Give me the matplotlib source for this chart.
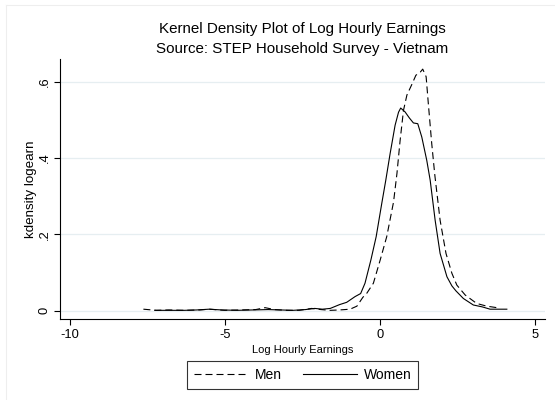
import matplotlib
matplotlib.use("Agg")
import matplotlib.pyplot as plt
from matplotlib.lines import Line2D

plt.rcParams['font.family'] = ['Liberation Sans', 'DejaVu Sans']
plt.rcParams['axes.unicode_minus'] = False

# kernel density of log hourly earnings
men_x = [-7.62, -7.2, -6.8, -6.3, -5.8, -5.5, -5.0, -4.5, -4.0, -3.7, -3.4, -3.0,
         -2.6, -2.2, -1.9, -1.6, -1.3, -0.96, -0.74, -0.55, -0.42, -0.21, 0.01,
         0.22, 0.44, 0.55, 0.65, 0.76, 0.87, 1.03, 1.16, 1.30, 1.38, 1.49, 1.56,
         1.67, 1.77, 1.94, 2.13, 2.32, 2.48, 2.75, 3.12, 3.44, 3.77, 3.85]
men_y = [0.004, 0.001, 0.002, 0.001, 0.002, 0.004, 0.001, 0.002, 0.003, 0.008,
         0.003, 0.001, 0.001, 0.006, 0.003, 0.001, 0.002, 0.004, 0.012, 0.035,
         0.046, 0.072, 0.133, 0.194, 0.285, 0.36, 0.445, 0.525, 0.565, 0.593,
         0.617, 0.625, 0.633, 0.613, 0.543, 0.438, 0.355, 0.237, 0.150, 0.098,
         0.067, 0.041, 0.019, 0.012, 0.008, 0.006]

women_x = [-7.25, -6.8, -6.3, -5.9, -5.5, -5.1, -4.6, -4.1, -3.6, -3.2, -2.8,
           -2.4, -2.1, -1.85, -1.6, -1.3, -1.07, -0.80, -0.62, -0.48, -0.29,
           -0.12, 0.06, 0.19, 0.33, 0.49, 0.60, 0.67, 0.81, 0.95, 1.08, 1.22,
           1.35, 1.51, 1.62, 1.78, 1.94, 2.16, 2.32, 2.45, 2.69, 3.01, 3.3,
           3.55, 3.8, 4.09]
women_y = [0.001, 0.001, 0.001, 0.002, 0.004, 0.002, 0.001, 0.002, 0.003,
           0.002, 0.001, 0.003, 0.006, 0.004, 0.006, 0.016, 0.022, 0.037,
           0.045, 0.072, 0.133, 0.194, 0.281, 0.342, 0.412, 0.486, 0.52,
           0.531, 0.521, 0.505, 0.492, 0.490, 0.455, 0.394, 0.342, 0.237,
           0.150, 0.089, 0.065, 0.052, 0.032, 0.015, 0.010, 0.004, 0.004, 0.004]

xticks = [-10, -5, 0, 5]
yticks = [0, 0.2, 0.4, 0.6]
ytick_labels = ['0', '.2', '.4', '.6']

fig = plt.figure(figsize=(5.55, 4.0), dpi=100, facecolor='white')
ax = fig.add_axes([0.1085, 0.2025, 0.8735, 0.6495])

# faint outer frame
fig.add_artist(Line2D([6/555, 1.0], [1-5/400, 1-5/400], color='#eeeeee', lw=0.8))
fig.add_artist(Line2D([6/555, 6/555], [0.0, 1-5/400], color='#eeeeee', lw=0.8))

men_line, = ax.plot(men_x, men_y, color='black', lw=0.8, linestyle=(0, (6.3, 3.6)))
women_line, = ax.plot(women_x, women_y, color='black', lw=0.8)

ax.set_xlim(-10.3, 5.32)
ax.set_ylim(-0.0217, 0.659)
ax.set_xticks(xticks)
ax.set_yticks(yticks)
ax.set_yticklabels(ytick_labels, rotation=90, va='center')
ax.tick_params(axis='both', labelsize=9.3, length=4, width=0.8, direction='out', pad=3)
ax.grid(axis='y', color='#e6eef1', lw=0.9)
ax.set_axisbelow(True)

for s in ['top', 'right']:
    ax.spines[s].set_visible(False)
for s in ['left', 'bottom']:
    ax.spines[s].set_linewidth(0.8)

ax.set_xlabel('Log Hourly Earnings', fontsize=8, labelpad=3)
ax.set_ylabel('kdensity logearn', fontsize=9.6, labelpad=1)

fig.text(302/555, 1-29/400, 'Kernel Density Plot of Log Hourly Earnings',
         ha='center', va='center', fontsize=10.9)
fig.text(302/555, 1-49/400, 'Source: STEP Household Survey - Vietnam',
         ha='center', va='center', fontsize=10.9)

leg = fig.legend([men_line, women_line], ['Men', 'Women'], ncol=2,
                 loc='center', bbox_to_anchor=(302.5/555, 1-375/400),
                 fontsize=10, frameon=True, fancybox=False, handlelength=3.9,
                 columnspacing=1.5, handletextpad=0.5, borderpad=0.5)
leg.get_frame().set_edgecolor('black')
leg.get_frame().set_linewidth(0.8)

fig.savefig('out.png', dpi=100)
